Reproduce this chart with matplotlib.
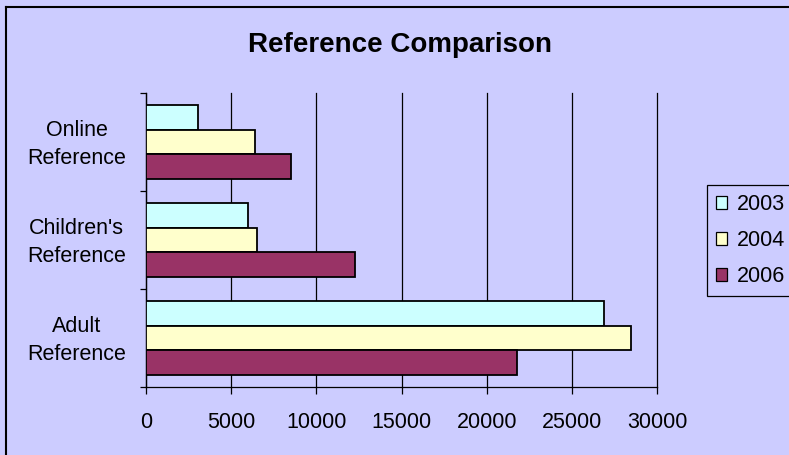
import matplotlib
matplotlib.use("Agg")
import matplotlib.pyplot as plt
from matplotlib.lines import Line2D
from matplotlib.transforms import ScaledTranslation
import numpy as np

plt.rcParams['font.family'] = ['Liberation Sans', 'DejaVu Sans']

categories = ["Adult\nReference", "Children's\nReference", "Online\nReference"]
series_names = ["2003", "2004", "2006"]
values_2003 = [26900, 6000, 3050]
values_2004 = [28500, 6500, 6400]
values_2006 = [21800, 12250, 8500]
x_ticks = [0, 5000, 10000, 15000, 20000, 25000, 30000]

colors = ["#CCFFFF", "#FFFFCC", "#993366"]
bg = "#CCCCFF"

W, H = 789, 455
fig = plt.figure(figsize=(W / 100, H / 100), dpi=100)
fig.patch.set_facecolor(bg)

ax = fig.add_axes([146 / W, 1 - 387 / H, (657 - 146) / W, (387 - 93) / H])
ax.set_facecolor(bg)

y = np.arange(len(categories))
h = 0.25
offsets = [h, 0, -h]
series = [values_2003, values_2004, values_2006]
handles = []
for vals, off, col, name in zip(series, offsets, colors, series_names):
    b = ax.barh(y + off, vals, height=h, color=col, edgecolor="black",
                linewidth=1.3, label=name, zorder=3)
    handles.append(b)

ax.set_xlim(0, 30000)
ax.set_ylim(-0.5, len(categories) - 0.5)
ax.set_xticks(x_ticks)
ax.set_xticklabels([str(t) for t in x_ticks])
ax.xaxis.grid(True, color="black", linewidth=0.9, zorder=1)
ax.set_axisbelow(True)
for gl in ax.get_xgridlines():
    gl.set_clip_on(False)

ax.set_yticks(np.arange(-0.5, len(categories), 1.0))
ax.set_yticklabels([])
ax.set_yticks(y, minor=True)
ax.set_yticklabels(categories, minor=True, fontsize=15.5, ha="center",
                   linespacing=1.45)
ax.tick_params(axis="y", which="minor", length=0, pad=50)
ax.tick_params(axis="y", which="major", length=4.5, width=0.9, direction="out")
ax.tick_params(axis="x", length=5, width=0.9, direction="out", labelsize=15.5, pad=13)
shift = ScaledTranslation(0, 4 / 100, fig.dpi_scale_trans)
for lbl in ax.get_yticklabels(minor=True):
    lbl.set_transform(lbl.get_transform() + shift)

for s in ["top", "right"]:
    ax.spines[s].set_visible(False)
for s in ["left", "bottom"]:
    ax.spines[s].set_color("black")
    ax.spines[s].set_linewidth(0.9)

fig.text(400 / W, 1 - 45 / H, "Reference Comparison", ha="center", va="center",
         fontsize=20, fontweight="bold")

leg = fig.legend(handles=handles, labels=series_names, loc="upper left",
                 bbox_to_anchor=(707 / W, 1 - 185 / H), borderaxespad=0,
                 fontsize=15.5, frameon=True, fancybox=False, edgecolor="black",
                 facecolor=bg, framealpha=1, handlelength=0.5, handleheight=0.5,
                 handletextpad=0.45, borderpad=0.42, labelspacing=0.7)
leg.get_frame().set_linewidth(0.9)
for p in leg.get_patches():
    p.set_linewidth(0.9)

# outer chart border (left and top visible)
fig.add_artist(Line2D([6 / W, 6 / W], [-0.1, 1 - 7 / H], color="black", linewidth=1.5,
                      transform=fig.transFigure))
fig.add_artist(Line2D([6 / W, 1.1], [1 - 7 / H, 1 - 7 / H], color="black", linewidth=1.5,
                      transform=fig.transFigure))

fig.savefig("out.png", dpi=100, facecolor=bg)
